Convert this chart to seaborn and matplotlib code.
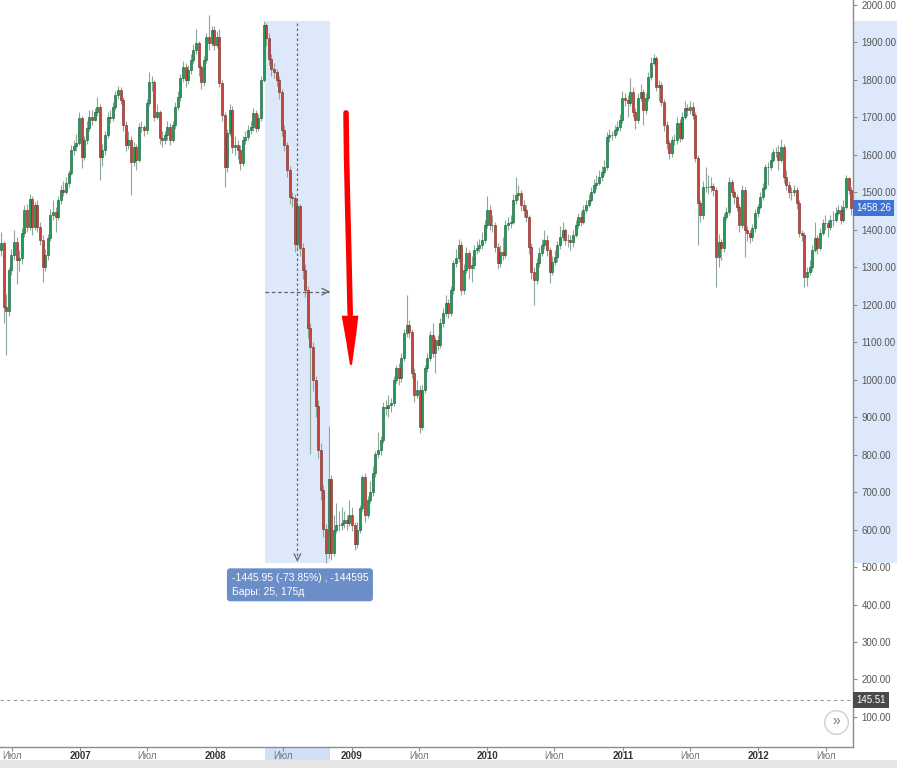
import numpy as np
import pandas as pd
import matplotlib
matplotlib.use("Agg")
import matplotlib.pyplot as plt
import matplotlib.transforms as mtransforms
from matplotlib.patches import Rectangle, Polygon
import seaborn as sns

sns.set_theme(style="white")
plt.rcParams["font.family"] = ["Liberation Sans", "DejaVu Sans"]

# ---------------------------------------------------------------------------
# Data: weekly bars
# ---------------------------------------------------------------------------
start_date = "2006-06-02"
first_open = 1346

closes = [
    1365, 1194, 1183, 1293, 1333, 1367, 1319, 1325, 1391, 1453,
    1407, 1482, 1407, 1466, 1407, 1373, 1301, 1333, 1378, 1440,
    1448, 1434, 1480, 1506, 1501, 1525, 1552, 1613, 1624, 1632,
    1698, 1594, 1640, 1672, 1701, 1693, 1714, 1728, 1594, 1613,
    1653, 1701, 1698, 1728, 1760, 1773, 1746, 1680, 1626, 1640,
    1581, 1621, 1586, 1674, 1674, 1666, 1738, 1794, 1794, 1701,
    1714, 1645, 1640, 1653, 1674, 1640, 1680, 1728, 1754, 1805,
    1834, 1800, 1826, 1853, 1880, 1899, 1834, 1794, 1853, 1914,
    1899, 1933, 1893, 1914, 1792, 1706, 1568, 1658, 1720, 1621,
    1626, 1613, 1578, 1640, 1648, 1666, 1674, 1712, 1672, 1698,
    1800, 1947, 1912, 1856, 1829, 1821, 1800, 1768, 1666, 1626,
    1560, 1488, 1485, 1362, 1464, 1351, 1293, 1239, 1138, 1087,
    999, 930, 812, 706, 601, 537, 735, 537, 599, 612,
    612, 617, 625, 617, 639, 612, 561, 599, 657, 740,
    639, 679, 700, 751, 802, 812, 839, 927, 924, 932,
    938, 999, 1031, 1004, 1058, 1125, 1146, 1127, 1018, 959,
    972, 874, 972, 1031, 1058, 1119, 1071, 1106, 1092, 1151,
    1178, 1205, 1178, 1239, 1311, 1325, 1359, 1239, 1293, 1338,
    1298, 1306, 1346, 1351, 1359, 1373, 1413, 1453, 1413, 1413,
    1354, 1311, 1341, 1333, 1413, 1418, 1421, 1480, 1493, 1498,
    1466, 1453, 1434, 1354, 1287, 1266, 1311, 1338, 1359, 1373,
    1346, 1287, 1314, 1327, 1359, 1381, 1399, 1373, 1373, 1367,
    1386, 1413, 1434, 1421, 1453, 1466, 1480, 1501, 1520, 1525,
    1541, 1554, 1568, 1648, 1653, 1653, 1666, 1674, 1693, 1752,
    1746, 1738, 1768, 1714, 1693, 1752, 1768, 1720, 1752, 1808,
    1845, 1859, 1781, 1786, 1741, 1680, 1632, 1605, 1640, 1640,
    1685, 1645, 1701, 1725, 1720, 1728, 1706, 1592, 1472, 1440,
    1514, 1514, 1514, 1517, 1506, 1327, 1367, 1351, 1434, 1447,
    1528, 1501, 1488, 1461, 1413, 1506, 1399, 1391, 1381, 1405,
    1445, 1461, 1488, 1512, 1568, 1568, 1586, 1608, 1608, 1586,
    1621, 1541, 1520, 1501, 1501, 1506, 1472, 1391, 1386, 1274,
    1287, 1301, 1346, 1378, 1351, 1391, 1418, 1418, 1407, 1426,
    1426, 1445, 1453, 1426, 1461, 1538, 1506, 1458.26,
]

highs = [
    1395, 1370, 1230, 1300, 1350, 1400, 1380, 1345, 1405, 1465,
    1470, 1495, 1490, 1475, 1480, 1420, 1385, 1350, 1390, 1455,
    1480, 1460, 1490, 1520, 1530, 1540, 1560, 1625, 1640, 1655,
    1715, 1705, 1650, 1690, 1720, 1720, 1725, 1754, 1735, 1630,
    1665, 1715, 1720, 1740, 1770, 1785, 1780, 1755, 1690, 1665,
    1650, 1635, 1630, 1685, 1690, 1680, 1750, 1822, 1810, 1800,
    1735, 1720, 1665, 1665, 1690, 1685, 1690, 1740, 1770, 1815,
    1850, 1845, 1840, 1870, 1895, 1935, 1905, 1840, 1865, 1925,
    1972, 1945, 1945, 1930, 1935, 1800, 1715, 1670, 1735, 1730,
    1650, 1640, 1625, 1650, 1665, 1680, 1690, 1725, 1720, 1710,
    1810, 1958, 1952, 1925, 1870, 1845, 1830, 1810, 1775, 1680,
    1635, 1570, 1500, 1495, 1480, 1470, 1365, 1310, 1250, 1150,
    1100, 1010, 945, 830, 720, 615, 877, 745, 640, 670,
    650, 660, 650, 640, 680, 660, 620, 620, 665, 745,
    750, 690, 730, 770, 810, 860, 850, 940, 945, 960,
    950, 1010, 1040, 1045, 1070, 1135, 1226, 1160, 1135, 1030,
    1000, 985, 985, 1040, 1070, 1130, 1150, 1115, 1120, 1165,
    1190, 1225, 1215, 1250, 1320, 1350, 1375, 1370, 1310, 1355,
    1345, 1330, 1360, 1370, 1375, 1395, 1425, 1490, 1465, 1440,
    1420, 1365, 1360, 1380, 1425, 1435, 1440, 1495, 1540, 1520,
    1505, 1480, 1465, 1440, 1365, 1300, 1325, 1355, 1375, 1400,
    1385, 1355, 1330, 1345, 1370, 1410, 1420, 1405, 1390, 1385,
    1400, 1425, 1445, 1450, 1465, 1480, 1495, 1515, 1535, 1545,
    1560, 1570, 1585, 1660, 1670, 1665, 1680, 1690, 1710, 1770,
    1765, 1760, 1805, 1780, 1725, 1765, 1790, 1775, 1765, 1820,
    1860, 1868, 1865, 1800, 1795, 1750, 1690, 1640, 1650, 1655,
    1700, 1695, 1715, 1745, 1735, 1745, 1740, 1715, 1600, 1480,
    1530, 1568, 1545, 1540, 1525, 1515, 1390, 1375, 1445, 1460,
    1540, 1535, 1510, 1495, 1470, 1520, 1515, 1410, 1400, 1415,
    1455, 1470, 1500, 1525, 1575, 1580, 1605, 1615, 1620, 1625,
    1642, 1630, 1560, 1530, 1515, 1520, 1515, 1480, 1400, 1395,
    1300, 1320, 1360, 1420, 1385, 1405, 1430, 1440, 1425, 1440,
    1450, 1460, 1465, 1465, 1480, 1545, 1540, 1515,
]

lows = [
    1330, 1150, 1066, 1170, 1280, 1320, 1255, 1290, 1310, 1380,
    1395, 1400, 1385, 1400, 1395, 1360, 1260, 1290, 1320, 1370,
    1425, 1395, 1425, 1470, 1490, 1495, 1515, 1545, 1600, 1610,
    1625, 1565, 1585, 1630, 1665, 1680, 1690, 1705, 1533, 1570,
    1600, 1645, 1685, 1690, 1720, 1750, 1735, 1665, 1610, 1615,
    1493, 1570, 1560, 1580, 1660, 1650, 1655, 1730, 1770, 1690,
    1695, 1630, 1620, 1630, 1640, 1625, 1635, 1670, 1720, 1745,
    1795, 1780, 1790, 1815, 1845, 1870, 1810, 1775, 1785, 1845,
    1880, 1890, 1880, 1885, 1780, 1690, 1514, 1555, 1650, 1605,
    1600, 1590, 1560, 1570, 1630, 1640, 1655, 1665, 1660, 1665,
    1690, 1795, 1890, 1840, 1810, 1805, 1785, 1750, 1650, 1610,
    1540, 1470, 1460, 1340, 1350, 1330, 1270, 1220, 1110, 802,
    970, 900, 790, 680, 580, 512, 525, 520, 530, 590,
    595, 600, 605, 600, 610, 595, 545, 550, 590, 650,
    620, 630, 670, 690, 740, 790, 800, 830, 905, 900,
    915, 930, 990, 985, 995, 1050, 1115, 1110, 1005, 940,
    950, 858, 865, 965, 1020, 1050, 1060, 1018, 1080, 1085,
    1140, 1170, 1165, 1170, 1230, 1300, 1315, 1225, 1230, 1285,
    1270, 1260, 1295, 1335, 1340, 1350, 1365, 1405, 1400, 1395,
    1340, 1295, 1300, 1320, 1325, 1400, 1405, 1415, 1470, 1480,
    1450, 1435, 1420, 1335, 1270, 1199, 1255, 1300, 1330, 1350,
    1330, 1258, 1280, 1305, 1315, 1350, 1370, 1360, 1355, 1345,
    1355, 1380, 1405, 1410, 1415, 1445, 1460, 1475, 1495, 1510,
    1520, 1530, 1545, 1560, 1635, 1640, 1645, 1655, 1665, 1685,
    1730, 1700, 1730, 1700, 1670, 1685, 1745, 1680, 1710, 1745,
    1800, 1840, 1770, 1745, 1730, 1665, 1615, 1590, 1595, 1625,
    1630, 1635, 1640, 1695, 1705, 1710, 1695, 1580, 1360, 1420,
    1430, 1500, 1495, 1500, 1490, 1247, 1300, 1320, 1340, 1425,
    1440, 1490, 1470, 1450, 1395, 1405, 1328, 1370, 1365, 1370,
    1395, 1435, 1455, 1480, 1505, 1520, 1560, 1580, 1595, 1560,
    1580, 1525, 1505, 1485, 1480, 1490, 1455, 1380, 1370, 1247,
    1250, 1280, 1290, 1340, 1335, 1345, 1385, 1400, 1380, 1400,
    1410, 1420, 1440, 1415, 1420, 1455, 1495, 1440,
]

price_ticks = list(range(100, 2001, 100))
last_price = 1458.26
level_price = 145.51

# measuring tool selection (bar indexes, price range)
sel_start, sel_end = 101, 126
sel_high, sel_low = 1958, 512
measure_lines = ["-1445.95 (-73.85%) , -144595", "Бары: 25, 175д"]

tick_months = pd.date_range("2006-07-01", "2012-07-01", freq="6MS")

# ---------------------------------------------------------------------------
UP_FACE, UP_EDGE = "#1e9b56", "#0f5a32"
DN_FACE, DN_EDGE = "#c9433b", "#7a241e"
WICK = "#8da89a"
SEL_BLUE = "#dde9fb"

fig = plt.figure(figsize=(8.97, 7.68), dpi=100)
fig.patch.set_facecolor("white")
ax = fig.add_axes([0, 21 / 768, 853 / 897, 747 / 768])

idx = np.arange(len(closes))
c = np.array(closes, dtype=float)
o = np.array([first_open] + closes[:-1], dtype=float)
h = np.maximum(np.array(highs, dtype=float), np.maximum(o, c))
l = np.minimum(np.array(lows, dtype=float), np.minimum(o, c))
up = c >= o

# selection background
ax.add_patch(Rectangle((sel_start + 0.5, sel_low), sel_end - sel_start,
                       sel_high - sel_low, fc=SEL_BLUE, ec="none", zorder=0))

ax.vlines(idx, l, h, color=WICK, lw=0.8, zorder=2)
ax.bar(idx[up], (c - o)[up], bottom=o[up], width=0.8, color=UP_FACE,
       edgecolor=UP_EDGE, linewidth=0.4, zorder=3)
ax.bar(idx[~up], (c - o)[~up], bottom=o[~up], width=0.8, color=DN_FACE,
       edgecolor=DN_EDGE, linewidth=0.4, zorder=3)

# measuring guides
mid_x = (sel_start + sel_end) / 2 + 0.5
mid_y = (sel_high + sel_low) / 2
ax.plot([mid_x, mid_x], [sel_high - 5, sel_low + 12], color="#666666",
        lw=0.9, ls=(0, (2, 2)), zorder=4)
ax.annotate("", xy=(mid_x, sel_low + 2), xytext=(mid_x, sel_low + 14),
            arrowprops=dict(arrowstyle="->", color="#666666", lw=0.9), zorder=4)
ax.plot([sel_start + 0.5, sel_end], [mid_y, mid_y], color="#666666",
        lw=0.9, ls=(0, (3, 2)), zorder=4)
ax.annotate("", xy=(sel_end + 0.5, mid_y), xytext=(sel_end - 1.5, mid_y),
            arrowprops=dict(arrowstyle="->", color="#666666", lw=0.9), zorder=4)

ax.text(mid_x - 25.3, sel_low - 28, "\n".join(measure_lines), ha="left",
        va="top", fontsize=7.5, color="white", linespacing=1.45, zorder=6,
        bbox=dict(boxstyle="round,pad=0.45,rounding_size=0.3", fc="#6b8ec8",
                  ec="none"))

# hand drawn red arrow
arrow_x = [132.7, 132.9, 133.3, 133.8, 134.3]
arrow_y = [1712, 1600, 1470, 1330, 1175]
ax.plot(arrow_x, arrow_y, color="#ff0000", lw=4.0, solid_capstyle="round",
        zorder=5)
ax.add_patch(Polygon([(131.5, 1168), (137.0, 1168), (136.2, 1120),
                      (134.6, 1040), (133.0, 1110)],
                     closed=True, fc="#ff0000", ec="#ff0000", lw=1.5, zorder=5))

# level line
ax.axhline(level_price, color="#9a9a9a", lw=0.8, ls=(0, (3, 3)), zorder=1)

# scroll button
ax.plot([321.2], [86], marker="o", ms=17, mfc="white", mec="#d0d0d0",
        mew=1.0, zorder=6, clip_on=False)
ax.text(321.3, 88, "»", ha="center", va="center", fontsize=10,
        color="#777777", zorder=7)

ax.set_xlim(-1 / 2.6, -1 / 2.6 + 853 / 2.6)
ax.set_ylim(19.7, 2013.3)

# axes styling
for side in ["left", "top"]:
    ax.spines[side].set_visible(False)
for side in ["right", "bottom"]:
    ax.spines[side].set_color("#8c8c8c")
    ax.spines[side].set_linewidth(1.0)

ax.yaxis.tick_right()
ax.set_yticks(price_ticks)
ax.set_yticklabels([f"{v:.2f}" for v in price_ticks])
ax.tick_params(axis="y", right=True, length=3, width=0.8, color="#8c8c8c",
               labelsize=7, labelcolor="#555555", pad=3)

start = pd.Timestamp(start_date)
xpos = [(d - start).days / 7 for d in tick_months]
xlab = [str(d.year) if d.month == 1 else "Июл" for d in tick_months]
ax.set_xticks(xpos)
ax.set_xticklabels(xlab)
ax.tick_params(axis="x", bottom=True, length=3, width=0.8, color="#8c8c8c",
               labelsize=7, pad=0)
for t in ax.get_xticklabels():
    if t.get_text() == "Июл":
        t.set_color("#777777")
    else:
        t.set_color("#333333")
        t.set_fontweight("bold")

# price axis highlight and labels
ytrans = mtransforms.blended_transform_factory(ax.transAxes, ax.transData)
ax.add_patch(Rectangle((1.0, sel_low), 0.06, sel_high - sel_low,
                       transform=ytrans, fc=SEL_BLUE, ec="none",
                       clip_on=False, zorder=0))
ax.text(1.004, last_price, f"{last_price:.2f}", transform=ytrans, ha="left",
        va="center", fontsize=7, color="white", zorder=8, clip_on=False,
        bbox=dict(boxstyle="square,pad=0.3", fc="#3f73d6", ec="none"))
ax.text(1.004, level_price, f"{level_price:.2f}", transform=ytrans, ha="left",
        va="center", fontsize=7, color="white", zorder=8, clip_on=False,
        bbox=dict(boxstyle="square,pad=0.3", fc="#4a4a4a", ec="none"))

xtrans = mtransforms.blended_transform_factory(ax.transData, ax.transAxes)
ax.add_patch(Rectangle((sel_start + 0.5, -13 / 747), sel_end - sel_start,
                       12 / 747, transform=xtrans, fc="#cfe0f7", ec="none",
                       clip_on=False, zorder=0))

fig.add_artist(Rectangle((0, 0), 1, 8 / 768, transform=fig.transFigure,
                         fc="#e6e6e6", ec="none"))

fig.savefig("out.png", dpi=100, facecolor="white")
